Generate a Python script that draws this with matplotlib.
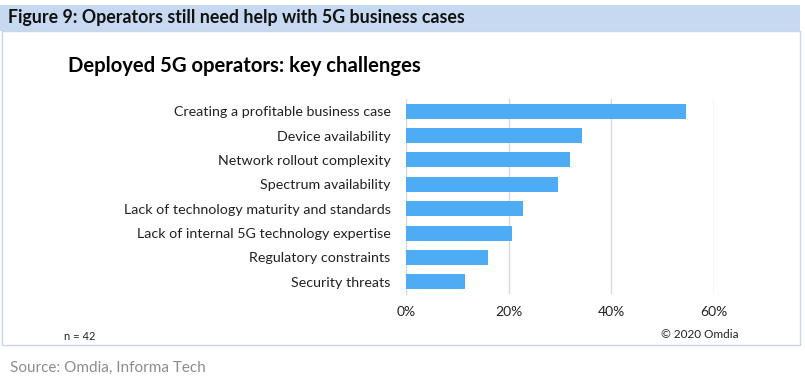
import matplotlib.pyplot as plt
from matplotlib.patches import Rectangle

categorias = [
    'Creating a profitable business case',
    'Device availability',
    'Network rollout complexity',
    'Spectrum availability',
    'Lack of technology maturity and standards',
    'Lack of internal 5G technology expertise',
    'Regulatory constraints',
    'Security threats',
]
valores = [54.6, 34.2, 31.9, 29.6, 22.8, 20.6, 16.0, 11.5]
ticks_x = [0, 20, 40, 60]
rotulos_x = ['0%', '20%', '40%', '60%']

plt.rcParams['font.family'] = ['Lato', 'DejaVu Sans']

W, H = 805, 385
fig = plt.figure(figsize=(W / 100, H / 100), dpi=100)

# faixa do título e caixa branca (atrás dos eixos)
fig.patches.append(Rectangle((0, 1 - 31 / H), 800 / W, 26 / H, transform=fig.transFigure,
                             facecolor='#c6d9f1', edgecolor='none', zorder=-10))
fig.patches.append(Rectangle((2 / W, 1 - 345 / H), 798 / W, 314 / H, transform=fig.transFigure,
                             facecolor='white', edgecolor='#c9d6e6', linewidth=1, zorder=-10))
fig.text(8 / W, 1 - 18 / H, 'Figure 9: Operators still need help with 5G business cases',
         fontsize=12.8, fontweight='bold', va='center', ha='left', color='#111111')
fig.text(68 / W, 1 - 66 / H, 'Deployed 5G operators: key challenges',
         fontsize=14.6, fontweight='bold', va='center', ha='left', color='black')
fig.text(64 / W, 1 - 337 / H, 'n = 42', fontsize=8, va='center', ha='left', color='#222222')
fig.text(739 / W, 1 - 335 / H, '© 2020 Omdia', fontsize=8.5, va='center', ha='right', color='#222222')
fig.text(10 / W, 1 - 368 / H, 'Source: Omdia, Informa Tech', fontsize=11, va='center',
         ha='left', color='#8c8c8c')

ax = fig.add_axes([406 / W, 1 - 294 / H, (714 - 406) / W, (294 - 99) / H])
y = list(range(len(categorias)))
ax.barh(y, valores, height=0.62, color='#4eacf5', zorder=3)
ax.set_ylim(len(categorias) - 0.5, -0.5)
ax.set_xlim(0, 60)
ax.set_yticks(y)
ax.set_yticklabels(categorias, fontsize=10.3, color='#222222')
ax.set_xticks(ticks_x)
ax.set_xticklabels(rotulos_x, fontsize=10, color='#222222')
ax.tick_params(length=0, axis='y', pad=11)
ax.tick_params(length=0, axis='x', pad=9)
ax.grid(axis='x', color='#d9d9d9', linewidth=1, zorder=0)
for lado in ['top', 'right', 'bottom']:
    ax.spines[lado].set_visible(False)
ax.spines['left'].set_color('#d9d9d9')
ax.patch.set_alpha(0)

plt.savefig('out.png', dpi=100)
